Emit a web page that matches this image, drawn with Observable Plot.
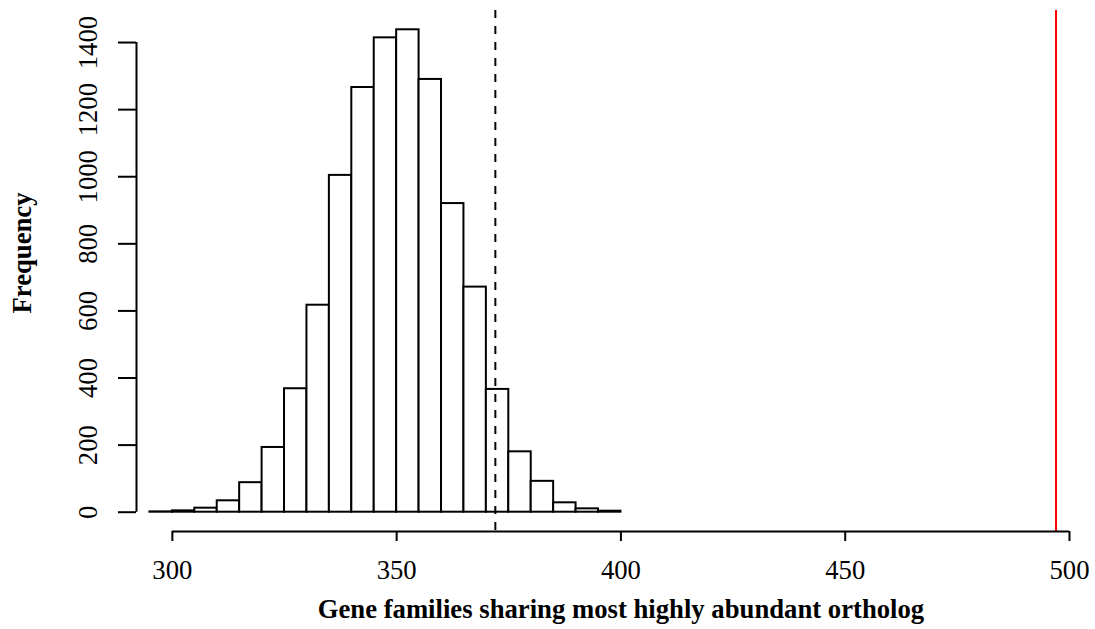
<!DOCTYPE html>
<html>
<head>
<meta charset="utf-8">
<script src="https://cdn.jsdelivr.net/npm/d3@7"></script>
<script src="https://cdn.jsdelivr.net/npm/@observablehq/plot@0.6"></script>
<style>
  html, body { margin: 0; padding: 0; background: #ffffff; }
  #chart svg { display: block; }
</style>
</head>
<body>
<div id="chart"></div>
<script>
// Histogram of gene families sharing the most highly abundant ortholog (permutation null)
const binStarts = [295, 300, 305, 310, 315, 320, 325, 330, 335, 340, 345,
                   350, 355, 360, 365, 370, 375, 380, 385, 390, 395];
const binWidth = 5;
const counts = [1, 4, 12, 34, 88, 193, 368, 617, 1004, 1266, 1414,
                1438, 1290, 920, 671, 366, 180, 92, 28, 10, 3];
const xTicks = [300, 350, 400, 450, 500];
const yTicks = [0, 200, 400, 600, 800, 1000, 1200, 1400];
const nullCutoff = 372;     // dashed reference line
const observedValue = 497;  // observed count (red line)
const xLabel = "Gene families sharing most highly abundant ortholog";
const yLabel = "Frequency";

const bins = binStarts.map((x0, i) => ({x1: x0, x2: x0 + binWidth, count: counts[i]}));

// R-style axis limits: 4% padding around the data range
const yMax = d3.max(counts);
const yMin = -0.04 * yMax;
const yTop = yMax * 1.04;
const xLo = 292, xHi = 505.8;

const font = "'Liberation Serif', 'Times New Roman', serif";
const fs = 26.7;

const chart = Plot.plot({
  width: 1095,
  height: 629,
  marginLeft: 136,
  marginRight: 0,
  marginTop: 10,
  marginBottom: 98,
  style: {fontFamily: font, fontSize: fs + "px", background: "#ffffff", color: "#000"},
  x: {domain: [xLo, xHi], axis: null},
  y: {domain: [yMin, yTop], axis: null},
  marks: [
    Plot.rect(bins, {x1: "x1", x2: "x2", y1: 0, y2: "count", fill: "white", stroke: "black", strokeWidth: 2}),
    Plot.ruleX([nullCutoff], {stroke: "black", strokeWidth: 2, strokeDasharray: "8,8"}),
    Plot.ruleX([observedValue], {stroke: "#ff0000", strokeWidth: 2}),
    // x axis
    Plot.ruleY([yMin], {x1: xTicks[0], x2: xTicks[xTicks.length - 1], stroke: "black", strokeWidth: 2}),
    Plot.axisX(xTicks, {anchor: "bottom", tickSize: 10, tickPadding: 19, strokeWidth: 2, fontSize: fs, label: null, fontFamily: font}),
    // y axis
    Plot.ruleX([xLo], {y1: yTicks[0], y2: yTicks[yTicks.length - 1], stroke: "black", strokeWidth: 2}),
    Plot.axisY(yTicks, {anchor: "left", tickSize: 18, strokeWidth: 2, tickFormat: () => "", label: null}),
    Plot.text(yTicks, {y: d => d, text: d => String(d), frameAnchor: "left", dx: -48, rotate: -90,
      textAnchor: "middle", lineAnchor: "middle", fontSize: fs, fontFamily: font, fill: "black"}),
    // axis titles
    Plot.text([xLabel], {x: (xTicks[0] + xTicks[xTicks.length - 1]) / 2, frameAnchor: "bottom", dy: 86,
      lineAnchor: "bottom", fontWeight: "bold", fontSize: fs, fontFamily: font, fill: "black"}),
    Plot.text([yLabel], {frameAnchor: "left", dx: -114, dy: -18, rotate: -90, textAnchor: "middle",
      lineAnchor: "middle", fontWeight: "bold", fontSize: fs, fontFamily: font, fill: "black"})
  ]
});
document.getElementById("chart").appendChild(chart);
</script>
</body>
</html>
